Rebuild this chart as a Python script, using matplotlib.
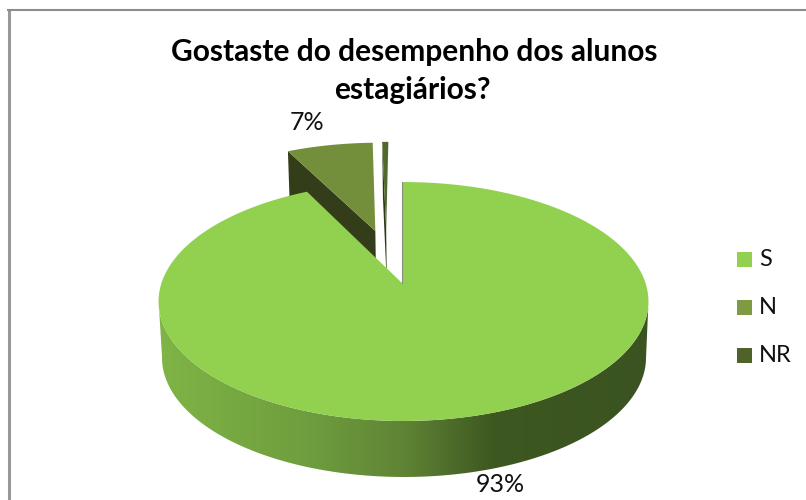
import numpy as np
import matplotlib
matplotlib.use("Agg")
import matplotlib.pyplot as plt
from matplotlib.patches import Polygon, Rectangle
from matplotlib.colors import LinearSegmentedColormap

categories = ["S", "N", "NR"]
values = [92.5, 7, 0.5]
pie_labels = ["93%", "7%", ""]
title_lines = ["Gostaste do desempenho dos alunos", "estagiários?"]

colors_top = ["#92d050", "#748f3b", "#4f6a2b"]
colors_wall = ["#7fb446", "#333d1a", "#2d3a18"]
colors_legend = ["#92d050", "#7f9a40", "#4f6228"]

plt.rcParams["font.family"] = ["Lato", "DejaVu Sans"]


def project(v, u):
    # circle in the pie plane to pixels, with the perspective of the 3d pie
    w = 1 - 0.155 * u
    return 403.5 + 242 * v / w, 283 + 116.6 * u / w


def lower(p):
    # same point on the underside of the pie
    return np.column_stack([404 + (p[:, 0] - 403.5) * 0.988, p[:, 1] + 56])


def wedge(start, end, off_v, off_u):
    ang = np.radians(np.linspace(start, end, 300))
    v = np.concatenate([[off_v], off_v + np.sin(ang), [off_v]])
    u = np.concatenate([[off_u], off_u - np.cos(ang), [off_u]])
    x, y = project(v, u)
    return np.column_stack([x, y])


fig = plt.figure(figsize=(8.06, 5), dpi=100)
ax = fig.add_axes([0, 0, 1, 1])

# slice angles come from the values, S starts at 12 o'clock going clockwise
total = sum(values)
edges = np.cumsum([0] + values) / total * 360
offsets = [(0.006, 0), (-0.125, -0.479), (-0.077, -0.49)]

# N and NR are pulled out behind S, so they go first
for i in [1, 2]:
    top = wedge(edges[i], edges[i + 1], offsets[i][0], offsets[i][1])
    first = top[:2]
    wall = np.vstack([first, lower(first)[::-1]])
    ax.add_patch(Polygon(wall, color=colors_wall[i], lw=0, zorder=2))
    ax.add_patch(Polygon(top, color=colors_top[i], lw=0, zorder=3))

# side of S with the left to right shading
s_top = wedge(edges[0], edges[1], 0, 0)
rim = s_top[1:-1]
side_pts = rim[(rim[:, 1] > 300)]
side = np.vstack([side_pts, lower(side_pts)[::-1]])
side_patch = Polygon(side, color="none", lw=0)
ax.add_patch(side_patch)
cmap = LinearSegmentedColormap.from_list(
    "side", [(0, "#7fb446"), (0.3, "#6f9e3e"), (0.5, "#5f8435"), (0.68, "#3e5821"), (1, "#3a5320")])
grad = ax.imshow(np.linspace(0, 1, 256).reshape(1, -1), cmap=cmap, extent=[159, 649, 480, 290],
                 aspect="auto", zorder=4)
grad.set_clip_path(side_patch)

s_top_shift = s_top.copy()
s_top_shift[[0, 1, -1], 0] -= 1.5
ax.add_patch(Polygon(s_top_shift, color=colors_top[0], lw=0, zorder=5))
ax.plot(s_top_shift[[0, 1], 0], s_top_shift[[0, 1], 1], color="#8a8f80", lw=0.8, zorder=6)

ax.text(414, 52, title_lines[0], fontsize=21.5, fontweight="bold", ha="center", va="center", color="#000000")
ax.text(412.5, 90, title_lines[1], fontsize=21.5, fontweight="bold", ha="center", va="center", color="#000000")

ax.text(500, 485, pie_labels[0], fontsize=18, ha="center", va="center", color="#111111")
ax.text(307, 122, pie_labels[1], fontsize=18, ha="center", va="center", color="#111111")

for i, name in enumerate(categories):
    y = 259.5 + 48 * i
    ax.add_patch(Rectangle((737, y - 7.5), 15, 15, color=colors_legend[i], lw=0))
    ax.text(759, y, name, fontsize=17, ha="left", va="center", color="#111111")

# frame of the pasted chart
ax.plot([8.8, 8.8], [500, 9], color="#989898", lw=2.2, solid_capstyle="butt")
ax.plot([7.3, 806], [10, 10], color="#8c8c8c", lw=1.5, solid_capstyle="butt")

ax.set_xlim(0, 806)
ax.set_ylim(500, 0)
ax.axis("off")
fig.savefig("out.png", dpi=100, facecolor="white")
